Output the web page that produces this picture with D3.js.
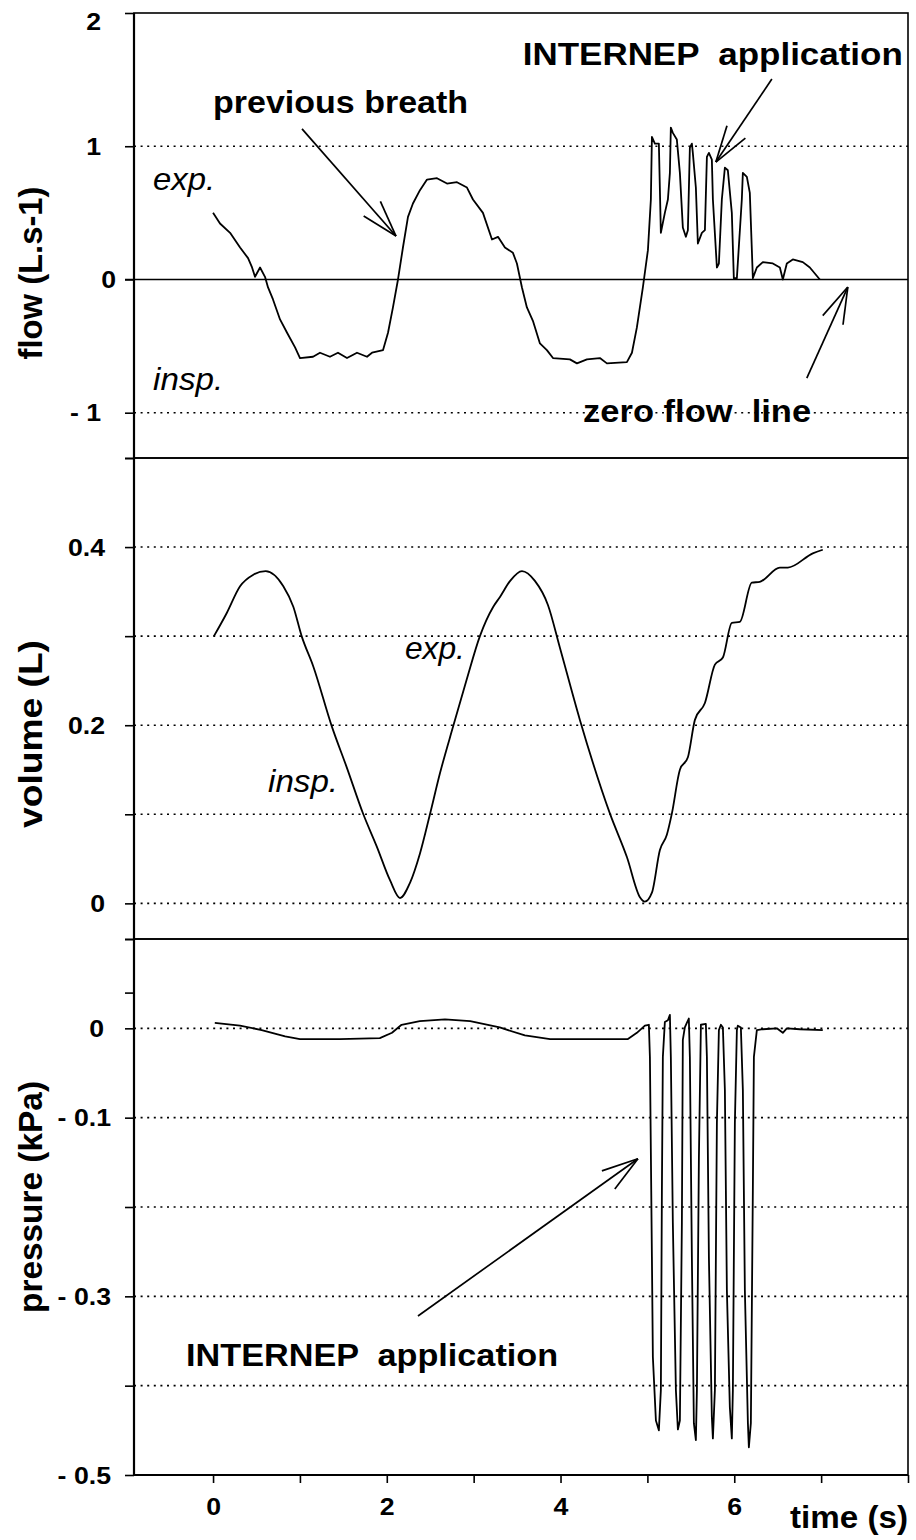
<!DOCTYPE html>
<html><head><meta charset="utf-8">
<script src="https://cdn.jsdelivr.net/npm/d3@7"></script>
<style>
body{margin:0;background:#fff;}
svg{display:block;}
text{font-family:"Liberation Sans",Arial,Helvetica,sans-serif;fill:#000;white-space:pre;}
</style>
</head><body>
<svg id="c" width="916" height="1540"></svg>
<script>
// ---------- DATA ----------
const timeTicks = [0,1,2,3,4,5,6,7,8];
const timeTickLabels = ["0","","2","","4","","6","",""];

const flowTicks = [2,1,0,-1,-1.34];
const flowTickLabels = ["2","1","0","- 1",""];
const flowGrid = [1,-1];

const volumeTicks = [0.5,0.4,0.3,0.2,0.1,0,-0.04];
const volumeTickLabels = ["","0.4","","0.2","","0",""];
const volumeGrid = [0.4,0.3,0.2,0.1,0];

const pressureTicks = [0.1,0.04,0,-0.1,-0.2,-0.3,-0.4,-0.5];
const pressureTickLabels = ["","","0","- 0.1","","- 0.3","","- 0.5"];
const pressureGrid = [0,-0.1,-0.2,-0.3,-0.4];

const flowTime = [0,0.08,0.196,0.311,0.403,0.449,0.483,0.541,0.598,0.633,0.69,0.771,0.852,0.944,1.001,1.151,1.231,1.346,1.438,1.542,1.657,1.772,1.83,1.957,2.014,2.071,2.129,2.186,2.244,2.301,2.382,2.463,2.578,2.693,2.808,2.923,2.992,3.107,3.211,3.28,3.36,3.452,3.498,3.556,3.613,3.682,3.763,3.843,3.913,4.108,4.189,4.304,4.453,4.534,4.764,4.822,4.879,4.948,5.006,5.04,5.052,5.086,5.132,5.155,5.201,5.236,5.259,5.27,5.293,5.339,5.374,5.408,5.443,5.466,5.489,5.512,5.523,5.558,5.581,5.627,5.662,5.685,5.708,5.742,5.754,5.8,5.823,5.857,5.892,5.926,5.972,5.995,6.03,6.087,6.099,6.145,6.179,6.214,6.26,6.329,6.444,6.525,6.559,6.605,6.674,6.789,6.87,6.985];
const flowValues = [0.50,0.42,0.35,0.24,0.16,0.09,0.02,0.09,0.02,-0.06,-0.15,-0.30,-0.40,-0.51,-0.59,-0.58,-0.55,-0.58,-0.55,-0.59,-0.55,-0.58,-0.55,-0.53,-0.40,-0.21,0.00,0.24,0.47,0.57,0.67,0.75,0.76,0.72,0.73,0.69,0.60,0.50,0.30,0.32,0.24,0.20,0.12,-0.06,-0.21,-0.31,-0.48,-0.53,-0.59,-0.60,-0.63,-0.60,-0.59,-0.63,-0.62,-0.55,-0.36,-0.06,0.22,0.60,1.07,1.02,1.02,0.35,0.50,0.60,0.80,1.14,1.10,1.05,0.80,0.39,0.32,0.37,0.99,1.02,0.95,0.69,0.27,0.35,0.37,0.92,0.95,0.90,0.60,0.09,0.12,0.60,0.84,0.82,0.50,0.01,0.01,0.60,0.80,0.77,0.65,0.01,0.09,0.13,0.12,0.09,0.00,0.12,0.15,0.13,0.09,0.00];

const volumeTime = [0.01,0.158,0.311,0.464,0.606,0.809,0.924,1.020,1.154,1.366,1.538,1.730,1.884,2.037,2.152,2.267,2.382,2.497,2.612,2.765,2.919,3.072,3.226,3.303,3.42,3.556,3.705,3.855,3.993,4.223,4.568,4.764,4.914,4.971,5.052,5.144,5.224,5.282,5.374,5.466,5.547,5.662,5.777,5.869,5.972,6.064,6.202,6.294,6.525,6.617,6.904,7.019];
const volumeValues = [0.300,0.326,0.356,0.369,0.373,0.356,0.333,0.300,0.266,0.199,0.153,0.100,0.064,0.026,0.006,0.023,0.056,0.100,0.146,0.199,0.251,0.300,0.333,0.344,0.362,0.373,0.362,0.335,0.287,0.206,0.101,0.052,0.007,0.002,0.012,0.060,0.077,0.101,0.150,0.164,0.206,0.225,0.268,0.276,0.315,0.316,0.360,0.361,0.377,0.377,0.393,0.397];

const pressureTime = [0.02,0.31,0.56,0.83,1.00,1.46,1.92,2.06,2.17,2.38,2.67,2.96,3.30,3.59,3.88,4.45,4.776,4.879,4.971,5.017,5.029,5.052,5.063,5.098,5.132,5.155,5.167,5.178,5.201,5.236,5.259,5.270,5.293,5.328,5.351,5.374,5.397,5.408,5.431,5.454,5.477,5.489,5.512,5.535,5.558,5.570,5.593,5.616,5.673,5.685,5.708,5.742,5.754,5.777,5.800,5.823,5.846,5.869,5.892,5.915,5.949,5.972,5.984,6.007,6.030,6.041,6.076,6.099,6.122,6.157,6.168,6.191,6.214,6.226,6.260,6.329,6.490,6.559,6.605,6.755,7.019];
const pressureValues = [0.006,0.003,-0.002,-0.009,-0.012,-0.012,-0.011,-0.005,0.004,0.008,0.010,0.008,0.001,-0.008,-0.012,-0.012,-0.012,-0.005,0.003,0.004,-0.032,-0.256,-0.368,-0.439,-0.450,-0.405,-0.181,-0.032,0.007,0.009,0.015,-0.032,-0.218,-0.405,-0.449,-0.439,-0.218,-0.013,0.001,0.006,0.011,-0.032,-0.256,-0.442,-0.461,-0.405,-0.144,0.004,0.005,-0.032,-0.256,-0.435,-0.459,-0.405,-0.106,-0.002,0.004,0.001,-0.069,-0.293,-0.424,-0.459,-0.405,-0.106,-0.002,0.003,0.001,-0.069,-0.293,-0.442,-0.469,-0.442,-0.181,-0.032,-0.002,-0.001,0.000,-0.005,0.000,-0.001,-0.002];

// ---------- LAYOUT ----------
const svg = d3.select("#c");
const L = 134, R = 908;
const FONT = '"Liberation Sans",Arial,sans-serif';
const x = d3.scaleLinear().domain([-0.91, 8]).range([L, R]);
const yFlow = d3.scaleLinear().domain([-1.34, 2]).range([458, 13]);
const yVol = d3.scaleLinear().domain([-0.04, 0.5]).range([939, 458]);
const yPres = d3.scaleLinear().domain([-0.5, 0.1]).range([1475, 939]);

function stretch(sel, k) {
  sel.each(function() {
    const w = this.getComputedTextLength();
    if (w > 0) d3.select(this).attr("textLength", w * k).attr("lengthAdjust", "spacingAndGlyphs");
  });
}

const panels = [
  {name:"flow", y:yFlow, ticks:flowTicks, labels:flowTickLabels, grid:flowGrid, t:flowTime, v:flowValues, curve:d3.curveLinear, labelEnd:101},
  {name:"vol", y:yVol, ticks:volumeTicks, labels:volumeTickLabels, grid:volumeGrid, t:volumeTime, v:volumeValues, curve:d3.curveMonotoneX, labelEnd:105},
  {name:"pres", y:yPres, ticks:pressureTicks, labels:pressureTickLabels, grid:pressureGrid, t:pressureTime, v:pressureValues, curve:d3.curveLinear, labelEnd:111}
];

panels.forEach(p => {
  const g = svg.append("g");
  const [bot, top] = p.y.range();
  g.selectAll("line.grid").data(p.grid).join("line")
    .attr("x1", L).attr("x2", R)
    .attr("y1", d => p.y(d)).attr("y2", d => p.y(d))
    .attr("stroke", "#000").attr("stroke-width", 1.6)
    .attr("stroke-dasharray", "2,4.6");
  g.append("rect").attr("x", L).attr("y", top).attr("width", R - L).attr("height", bot - top)
    .attr("fill", "none").attr("stroke", "#000").attr("stroke-width", 1.6);
  const ax = d3.axisLeft(p.y).tickValues(p.ticks).tickSize(9).tickSizeOuter(0)
    .tickFormat((d, k) => p.labels[k]).tickPadding(0);
  const ag = svg.append("g").attr("transform", `translate(${L},0)`).call(ax);
  ag.select(".domain").remove();
  ag.selectAll(".tick line").attr("stroke", "#000").attr("stroke-width", 1.6);
  const tt = ag.selectAll(".tick text")
    .attr("x", d => (p.name === "flow" && d === 0) ? 116 - L : (p.name === "pres" && d === 0 ? 104 - L : p.labelEnd - L))
    .attr("dy", d => (p.name === "flow" && d === 2) ? "0.72em" : "0.36em")
    .style("font-family", FONT)
    .style("font-weight", "bold").style("font-size", "23px").attr("fill", "#000");
  stretch(tt, 1.16);
  const pts = d3.zip(p.t, p.v);
  g.append("path").datum(pts)
    .attr("d", d3.line().x(d => x(d[0])).y(d => p.y(d[1])).curve(p.curve))
    .attr("fill", "none").attr("stroke", "#000").attr("stroke-width", 1.8)
    .attr("stroke-linejoin", "round");
});

svg.append("line").attr("x1", 125).attr("x2", R).attr("y1", yFlow(0)).attr("y2", yFlow(0))
  .attr("stroke", "#000").attr("stroke-width", 1.4);

svg.append("line").attr("x1", L).attr("x2", L).attr("y1", yFlow(2)).attr("y2", yPres(-0.5))
  .attr("stroke", "#000").attr("stroke-width", 2.2);

const bx = d3.axisBottom(x).tickValues(timeTicks).tickSize(8).tickSizeOuter(0)
  .tickFormat((d, k) => timeTickLabels[k]).tickPadding(16);
const bg = svg.append("g").attr("transform", `translate(0,${yPres(-0.5)})`).call(bx);
bg.select(".domain").attr("stroke", "#000").attr("stroke-width", 2).attr("d", `M${L},0H${R}`);
bg.selectAll(".tick line").attr("stroke", "#000").attr("stroke-width", 1.6);
const bt = bg.selectAll(".tick text").style("font-family", FONT)
  .style("font-weight", "bold").style("font-size", "23px").attr("fill", "#000");
stretch(bt, 1.16);

// ---------- TEXT ----------
function label(txt, px, py, opts) {
  const t = svg.append("text").attr("x", px).attr("y", py).text(txt)
    .style("font-size", (opts.size || 30) + "px")
    .style("font-weight", opts.bold ? "bold" : "normal")
    .style("font-style", opts.italic ? "italic" : "normal")
    .attr("text-anchor", opts.anchor || "start");
  if (opts.len) t.attr("textLength", opts.len).attr("lengthAdjust", "spacingAndGlyphs");
  if (opts.rot) t.attr("transform", `rotate(-90,${px},${py})`);
  return t;
}
label("flow (L.s-1)", 42, 273, {bold:true, size:33, anchor:"middle", rot:true, len:173});
label("volume (L)", 42, 734, {bold:true, size:33, anchor:"middle", rot:true, len:188});
label("pressure (kPa)", 42, 1197, {bold:true, size:33, anchor:"middle", rot:true, len:232});
label("time (s)", 790, 1528, {bold:true, size:31, len:118});

label("exp.", x(-0.69), yFlow(0.67), {italic:true, size:32, len:62});
label("insp.", x(-0.69), yFlow(-0.83), {italic:true, size:32, len:70});
label("previous breath", x(0), yFlow(1.25), {bold:true, size:31, len:255});
label("INTERNEP  application", x(7.94), yFlow(1.61), {bold:true, size:31, anchor:"end", len:380});
label("zero flow  line", x(4.26), yFlow(-1.07), {bold:true, size:31, len:228});
label("exp.", x(2.209), yVol(0.274), {italic:true, size:32, len:60});
label("insp.", x(0.633), yVol(0.125), {italic:true, size:32, len:70});
label("INTERNEP  application", x(-0.31), yPres(-0.378), {bold:true, size:31, len:372});

function arrow(x1, y1, x2, y2) {
  const g = svg.append("g").attr("stroke", "#000").attr("stroke-width", 1.7).attr("fill", "none");
  g.append("line").attr("x1", x1).attr("y1", y1).attr("x2", x2).attr("y2", y2);
  const a = Math.atan2(y1 - y2, x1 - x2), len = 38, sp = 17 * Math.PI / 180;
  [a - sp, a + sp].forEach(b => {
    g.append("line").attr("x1", x2).attr("y1", y2)
      .attr("x2", x2 + len * Math.cos(b)).attr("y2", y2 + len * Math.sin(b));
  });
}
arrow(x(1.024), yFlow(1.13), x(2.106), yFlow(0.326));
arrow(x(6.433), yFlow(1.504), x(5.788), yFlow(0.881));
arrow(x(6.835), yFlow(-0.74), x(7.307), yFlow(-0.057));
arrow(x(2.359), yPres(-0.322), x(4.891), yPres(-0.146));
</script>
</body></html>
